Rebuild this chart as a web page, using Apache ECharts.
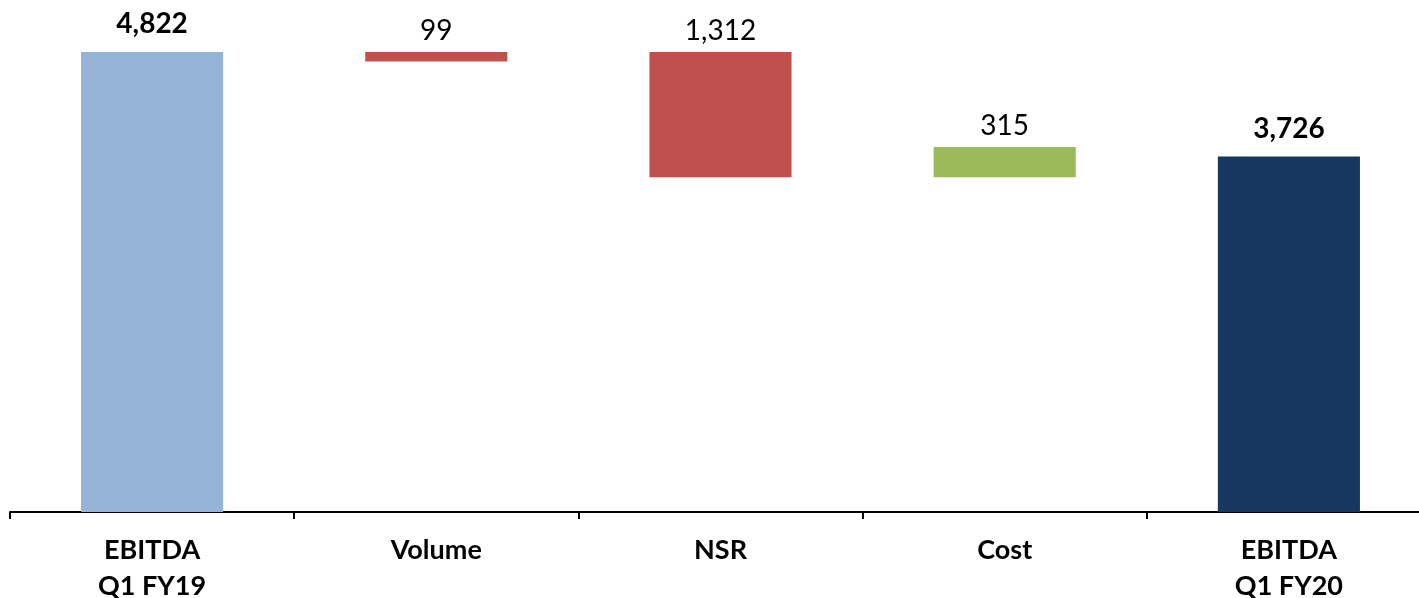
<!DOCTYPE html>
<html>
<head>
<meta charset="utf-8">
<script src="https://cdn.jsdelivr.net/npm/echarts@6/dist/echarts.min.js"></script>
<style>
  html, body { margin: 0; padding: 0; background: #fff; }
  #chart { width: 1419px; height: 598px; }
</style>
</head>
<body>
<div id="chart"></div>
<script type="text/javascript">
var categories = ['EBITDA\nQ1 FY19', 'Volume', 'NSR', 'Cost', 'EBITDA\nQ1 FY20'];
var values = [4822, 99, 1312, 315, 3726];
var colors = ['#95B3D7', '#C0504D', '#C0504D', '#9BBB59', '#17375E'];
var boldLabel = [true, false, false, false, true];

// invisible base under each floating bar (as drawn in the source chart)
var bases = [
    0,
    values[0] - values[1],
    values[0] - values[2],
    values[0] - values[2],
    0
];

function draw() {
    var myChart = echarts.init(document.getElementById('chart'));
    var option = {
        animation: false,
        grid: {
            left: 10, top: 35, width: 1421, height: 477,
            containLabel: false,
            outerBoundsMode: 'none'
        },
        xAxis: {
            type: 'category',
            data: categories,
            axisLine: { lineStyle: { color: '#000', width: 2 } },
            axisTick: { show: true, length: 7, lineStyle: { color: '#000', width: 2 } },
            axisLabel: {
                color: '#000',
                fontFamily: 'Lato',
                fontWeight: 'bold',
                fontSize: 27,
                lineHeight: 36,
                margin: 20,
                verticalAlign: 'top'
            }
        },
        yAxis: {
            type: 'value',
            min: 0,
            max: 5000,
            show: false
        },
        series: [
            {
                type: 'bar',
                stack: 'w',
                barWidth: '50%',
                itemStyle: { color: 'transparent' },
                data: bases
            },
            {
                type: 'bar',
                stack: 'w',
                barWidth: '50%',
                data: values.map(function (v, i) {
                    return {
                        value: v,
                        itemStyle: { color: colors[i] },
                        label: {
                            fontWeight: boldLabel[i] ? 'bold' : 'normal',
                            distance: boldLabel[i] ? 14 : 7
                        }
                    };
                }),
                label: {
                    show: true,
                    position: 'top',
                    color: '#000',
                    fontFamily: 'Lato',
                    fontSize: 28,
                    formatter: function (p) {
                        return p.value.toLocaleString('en-US');
                    }
                }
            }
        ]
    };
    myChart.setOption(option);
}

draw();
</script>
</body>
</html>
